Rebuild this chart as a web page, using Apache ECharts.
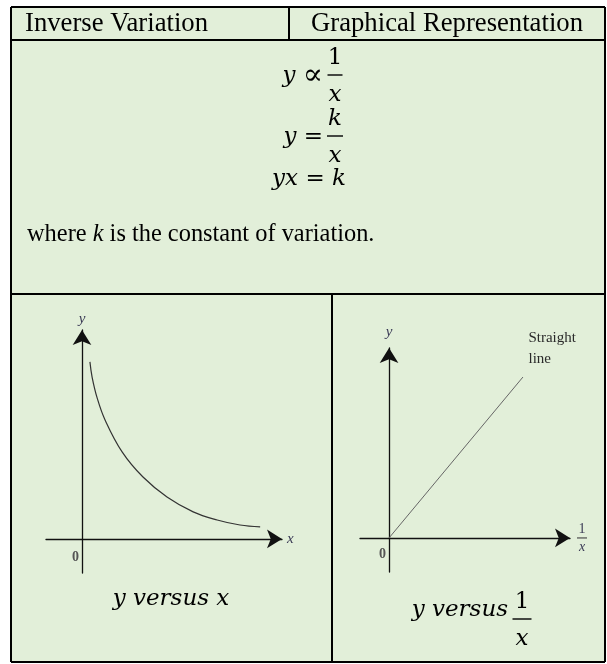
<!DOCTYPE html>
<html>
<head>
<meta charset="utf-8">
<title>Inverse Variation</title>
<script src="https://cdn.jsdelivr.net/npm/echarts@6/dist/echarts.min.js"></script>
<style>
  html, body { margin: 0; padding: 0; background: #fff; }
  #main { width: 607px; height: 664px; }
</style>
</head>
<body>
<div id="main"></div>
<script>
// y versus x (grid units, 1 unit ~ 24px)
var curveX = [0.33, 0.42, 0.63, 0.96, 1.67, 2.54, 3.54, 4.63, 5.63, 6.58, 7.42];
var curveY = [7.38, 6.75, 5.88, 4.96, 3.63, 2.58, 1.75, 1.13, 0.79, 0.58, 0.50];
// y versus 1/x
var lineX = [0, 5.58];
var lineY = [0, 6.71];
// axis extents (origin sits at 0 on both)
var leftXRange = [-1.5, 8.33];
var leftYRange = [-1.42, 8.71];
var rightXRange = [-1.21, 7.54];
var rightYRange = [-1.42, 7.92];

var textFont = '"Liberation Serif", "Times New Roman", serif';
var mathFont = '"DejaVu Serif", serif';
var labelColor = '#3a3a55';

var fracRich = {
    n: {fontFamily: textFont, fontStyle: 'normal', fontSize: 14, lineHeight: 16, width: 10, align: 'center', color: labelColor},
    hr: {width: 10, height: 0, lineHeight: 2, borderColor: '#555', borderWidth: 0.8},
    d: {fontFamily: textFont, fontStyle: 'italic', fontSize: 14, lineHeight: 16, width: 10, align: 'center', color: labelColor}
};

function xAx(i, range, name, gap, zeroMargin) {
    return {
        type: 'value', gridIndex: i, min: range[0], max: range[1],
        name: name, nameLocation: 'end', nameGap: gap,
        nameTextStyle: {fontFamily: textFont, fontStyle: 'italic', fontSize: 15, color: labelColor, rich: fracRich},
        axisLine: {onZero: true, symbol: ['none', 'arrow'], symbolSize: [14, 15],
            lineStyle: {color: '#111', width: 1.3}},
        axisTick: {show: false},
        splitLine: {show: false},
        axisLabel: {
            formatter: function (v) { return v === 0 ? '0' : ''; },
            align: 'right', margin: zeroMargin, padding: [0, 3, 0, 0],
            color: '#555', fontFamily: textFont, fontSize: 14, fontWeight: 'bold'
        }
    };
}

function yAx(i, range, gap) {
    return {
        type: 'value', gridIndex: i, min: range[0], max: range[1],
        name: 'y', nameLocation: 'end', nameGap: gap,
        nameTextStyle: {fontFamily: textFont, fontStyle: 'italic', fontSize: 15, color: labelColor},
        axisLine: {onZero: true, symbol: ['none', 'arrow'], symbolSize: [14, 15],
            lineStyle: {color: '#111', width: 1.3}},
        axisTick: {show: false},
        splitLine: {show: false},
        axisLabel: {show: false}
    };
}

function txt(x, y, text, font, align, rich) {
    return {
        type: 'text', x: x, y: y, z: 5,
        style: {
            text: text, font: font, fill: '#000', rich: rich,
            align: align || 'left', verticalAlign: 'middle',
            textAlign: align || 'left', textVerticalAlign: 'middle'
        }
    };
}

function seg(x1, y1, x2, y2, w) {
    return {type: 'line', z: 4, shape: {x1: x1, y1: y1, x2: x2, y2: y2},
        style: {stroke: '#000', lineWidth: w || 2}};
}

var mFont = 'italic 23px ' + mathFont;
var mRich = {
    i: {fontFamily: mathFont, fontStyle: 'italic', fontSize: 23},
    o: {fontFamily: mathFont, fontSize: 23},
    p: {fontFamily: mathFont, fontSize: 30}
};

function fraction(cx, barY, num, den, w) {
    return [
        txt(cx, barY - 17, num, (num === '1' ? '' : 'italic ') + '23px ' + mathFont, 'center'),
        seg(cx - w / 2, barY, cx + w / 2, barY, 1.4),
        txt(cx, barY + 20, den, mFont, 'center')
    ];
}

var elements = [
    {type: 'rect', z: -10, shape: {x: 11, y: 7, width: 594, height: 655}, style: {fill: '#E2EFD9'}},
    // table rules
    seg(11, 7, 605, 7), seg(11, 662, 605, 662), seg(11, 7, 11, 662), seg(605, 7, 605, 662),
    seg(11, 40, 605, 40), seg(289, 7, 289, 40),
    seg(11, 294, 605, 294), seg(332, 294, 332, 662),
    txt(25, 24, 'Inverse Variation', '26.7px ' + textFont, 'left'),
    txt(447, 24, 'Graphical Representation', '26.7px ' + textFont, 'center'),
    txt(323, 76, '{i|y} {p|\u221d}', mFont, 'right', mRich),
    txt(323, 137, '{i|y} {o|=}', mFont, 'right', mRich),
    txt(309, 179, '{i|yx} {o|=} {i|k}', mFont, 'center', mRich),
    txt(27, 235, '{r|where }{k|k}{r| is the constant of variation.}', '24.4px ' + textFont, 'left', {
        r: {fontFamily: textFont, fontSize: 24.4},
        k: {fontFamily: textFont, fontSize: 24.4, fontStyle: 'italic'}
    }),
    txt(171, 599, 'y versus x', mFont, 'center'),
    txt(508, 610, 'y versus', mFont, 'right')
].concat(
    fraction(335, 75, '1', 'x', 15),
    fraction(335, 136, 'k', 'x', 16),
    fraction(522, 619, '1', 'x', 19)
);

var chart = echarts.init(document.getElementById('main'));
chart.setOption({
    backgroundColor: '#fff',
    animation: false,
    grid: [
        {left: 46, top: 330, width: 236, height: 243},
        {left: 360, top: 348, width: 210, height: 224}
    ],
    xAxis: [xAx(0, leftXRange, 'x', 5, -23), xAx(1, rightXRange, '{n|1}\n{hr|}\n{d|x}', 7, -25)],
    yAxis: [yAx(0, leftYRange, 3), yAx(1, rightYRange, 8)],
    series: [
        {
            name: 'y versus x', type: 'line', xAxisIndex: 0, yAxisIndex: 0,
            data: curveX.map(function (x, i) { return [x, curveY[i]]; }),
            smooth: 0.4, showSymbol: false,
            lineStyle: {color: '#333', width: 1.2}
        },
        {
            name: 'y versus 1/x', type: 'line', xAxisIndex: 1, yAxisIndex: 1,
            data: lineX.map(function (x, i) { return [x, lineY[i]]; }),
            showSymbol: false,
            lineStyle: {color: '#666', width: 1},
            markPoint: {
                symbol: 'circle', symbolSize: 1,
                itemStyle: {color: 'rgba(0,0,0,0)'},
                data: [{coord: [lineX[1], lineY[1]]}],
                label: {
                    show: true, position: 'right', distance: 5, offset: [0, -28],
                    formatter: 'Straight\nline', color: '#2a2a2a',
                    fontFamily: textFont, fontSize: 15, lineHeight: 21, align: 'left'
                }
            }
        }
    ],
    graphic: {elements: elements}
});
</script>
</body>
</html>
